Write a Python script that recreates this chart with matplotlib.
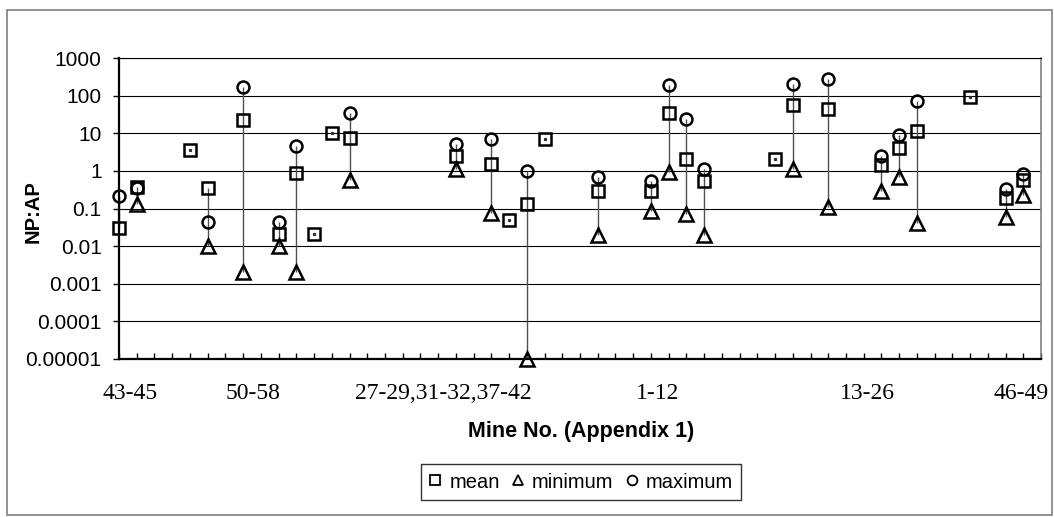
import matplotlib
matplotlib.use("Agg")
import matplotlib.pyplot as plt
from matplotlib.patches import Rectangle
from matplotlib.lines import Line2D
import numpy as np

nan = np.nan

# mine groups along the category axis (53 mines, one slot each)
n_slots = 53
group_labels = ["43-45", "50-58", "27-29,31-32,37-42", "1-12", "13-26", "46-49"]
group_label_pos = [0.6, 7.55, 18.3, 30.4, 42.2, 50.9]

# slots that carry NP:AP values
slot = [0, 1, 4, 5, 7, 9, 10, 11, 12, 13, 19, 21, 22, 23, 24,
        27, 30, 31, 32, 33, 37, 38, 40, 43, 44, 45, 48, 50, 51]
np_ap_mean = [0.03, 0.38, 3.6, 0.35, 22, 0.021, 0.87, 0.021, 10, 7.7, 2.5, 1.5, 0.048, 0.13, 6.9,
              0.3, 0.3, 34, 2.1, 0.55, 2.1, 56, 45, 1.4, 4.1, 11.7, 90, 0.19, 0.57]
np_ap_min = [nan, 0.135, nan, 0.01, 0.002, 0.01, 0.002, nan, nan, 0.58, 1.1, 0.074, nan, 0.00001, nan,
             0.02, 0.085, 0.95, 0.07, 0.02, nan, 1.1, 0.11, 0.29, 0.67, 0.042, nan, 0.06, 0.23]
np_ap_max = [0.21, 0.35, nan, 0.043, 165, 0.043, 4.5, nan, nan, 35, 5.2, 6.9, nan, 1.0, nan,
             0.7, 0.55, 190, 24, 1.1, nan, 210, 270, 2.5, 8.9, 70, nan, 0.33, 0.85]

y_ticks = [1e-5, 1e-4, 1e-3, 1e-2, 1e-1, 1, 10, 100, 1000]
y_tick_labels = ["0.00001", "0.0001", "0.001", "0.01", "0.1", "1", "10", "100", "1000"]

SANS = "Liberation Sans"
SERIF = "Liberation Serif"

fig = plt.figure(figsize=(10.54, 5.17), dpi=100)
ax = fig.add_axes([119 / 1054, 1 - 359 / 517, 922 / 1054, 301 / 517])

# chart area frame
fig.patches.append(Rectangle((7 / 1054, 2 / 517), 1045 / 1054, 505 / 517,
                             transform=fig.transFigure, fill=False,
                             edgecolor="#808080", linewidth=1.2))

x = np.array(slot, dtype=float)
mean = np.array(np_ap_mean)
lo = np.array(np_ap_min)
hi = np.array(np_ap_max)
stack = np.vstack([mean, lo, hi])
top = np.nanmax(stack, axis=0)
bottom = np.nanmin(stack, axis=0)

# high-low lines
ax.vlines(x, bottom, top, color="#505050", linewidth=1.0, zorder=2)
single = top == bottom
ax.plot(x[single], mean[single], linestyle="none", marker="s", markersize=1.3,
        color="#303030", zorder=2)

mk = dict(linestyle="none", markerfacecolor="none", markeredgecolor="black",
          markeredgewidth=1.8, clip_on=False, zorder=3)
ax.plot(x, mean, marker="s", markersize=8.6, **mk)
ax.plot(x, lo, marker="^", markersize=9.5, **mk)
ax.plot(x, hi, marker="o", markersize=8.6, **mk)

ax.set_yscale("log")
ax.set_ylim(1e-5, 1000)
ax.set_xlim(0, n_slots - 1)
ax.set_yticks(y_ticks)
ax.set_yticklabels(y_tick_labels, fontfamily=SANS, fontsize=15)
ax.yaxis.set_minor_locator(plt.NullLocator())
ax.tick_params(axis="y", which="major", direction="out", length=4.5, width=1, pad=8)

ax.set_xticks(group_label_pos)
ax.set_xticklabels(group_labels, fontfamily=SERIF, fontsize=17)
ax.set_xticks(np.arange(n_slots), minor=True)
ax.tick_params(axis="x", which="major", length=0, pad=17)
ax.tick_params(axis="x", which="minor", direction="in", length=4, width=1)

ax.grid(True, axis="y", which="major", color="black", linewidth=0.8)
ax.set_axisbelow(True)
ax.spines["left"].set_linewidth(1.6)
ax.spines["bottom"].set_linewidth(1.6)
ax.spines["top"].set_linewidth(0.8)
ax.spines["right"].set_color("#808080")
ax.spines["right"].set_linewidth(1.2)

ax.set_ylabel("NP:AP", fontfamily=SANS, fontsize=14.5, fontweight="bold")
ax.yaxis.set_label_coords(-76 / 922, 0.49)
fig.text(581 / 1054, 1 - 431 / 517, "Mine No. (Appendix 1)", ha="center", va="center",
         fontfamily=SANS, fontsize=15.5, fontweight="bold")

handles = [
    Line2D([], [], linestyle="none", marker="s", markersize=7, markerfacecolor="none",
           markeredgecolor="black", markeredgewidth=1.3),
    Line2D([], [], linestyle="none", marker="^", markersize=7.5, markerfacecolor="none",
           markeredgecolor="black", markeredgewidth=1.3),
    Line2D([], [], linestyle="none", marker="o", markersize=7, markerfacecolor="none",
           markeredgecolor="black", markeredgewidth=1.3),
]
leg = fig.legend(handles, ["mean", "minimum", "maximum"], loc="center",
                 bbox_to_anchor=(581 / 1054, 1 - 482 / 517), ncol=3,
                 prop={"family": SANS, "size": 14.5}, frameon=True, fancybox=False,
                 edgecolor="black", handlelength=0.6, handletextpad=0.4,
                 columnspacing=0.6, borderpad=0.4)
leg.get_frame().set_linewidth(1.0)

fig.savefig("out.png", dpi=100)
